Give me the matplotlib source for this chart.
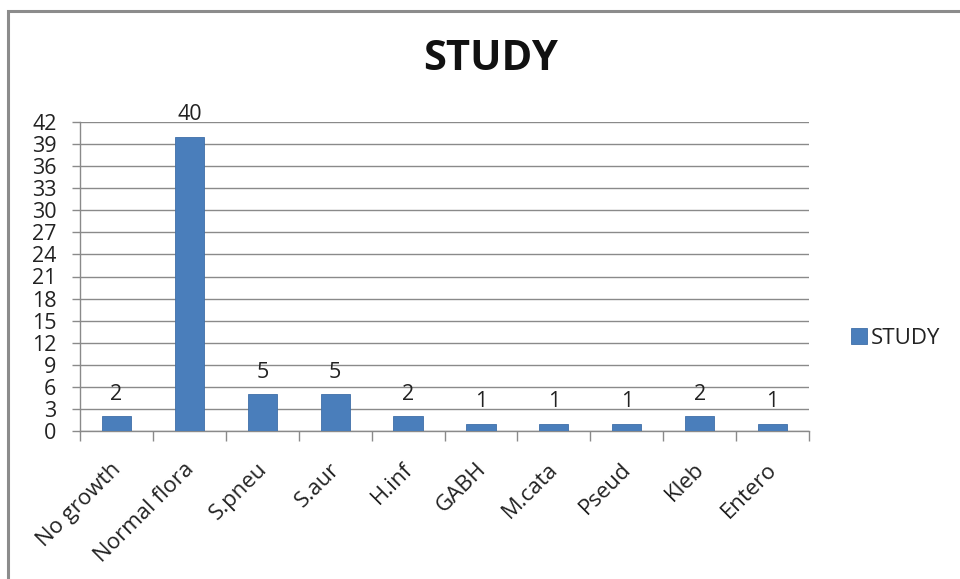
import matplotlib
matplotlib.use("Agg")
import matplotlib.pyplot as plt
from matplotlib.patches import Rectangle
from matplotlib.transforms import ScaledTranslation
import numpy as np

categories = ["No growth", "Normal flora", "S.pneu", "S.aur", "H.inf",
              "GABH", "M.cata", "Pseud", "Kleb", "Entero"]
values = [2, 40, 5, 5, 2, 1, 1, 1, 2, 1]
series_name = "STUDY"
y_ticks = list(range(0, 43, 3))

plt.rcParams["font.family"] = ["Open Sans", "DejaVu Sans"]

W, H = 960, 579
fig = plt.figure(figsize=(W / 100, H / 100), dpi=100)
fig.patch.set_facecolor("white")

# outer chart frame
fig.patches.append(Rectangle((8 / W, -0.05), 1.2, 1 - 11 / H + 0.05,
                             transform=fig.transFigure, fill=False,
                             edgecolor="#8c8c8c", linewidth=2.2, zorder=0))

ax = fig.add_axes([80 / W, 1 - 431 / H, (809 - 80) / W, (431 - 122) / H])
x = np.arange(len(categories))
bars = ax.bar(x, values, width=0.4, color="#4a7ebb", edgecolor="#3f6fa8",
              linewidth=0.6, zorder=3, label=series_name)

for xi, v in zip(x, values):
    ax.annotate(str(v), (xi, v), xytext=(0, 12), textcoords="offset points",
                ha="center", va="baseline", fontsize=15.5, color="#222222")

ax.set_xlim(-0.5, len(categories) - 0.5)
ax.set_ylim(0, 42)
ax.set_yticks(y_ticks)
ax.yaxis.grid(True, color="#8a8a8a", linewidth=1.0, zorder=0)
ax.set_axisbelow(True)

# boundary ticks between categories, labels at centres
ax.set_xticks(np.arange(-0.5, len(categories)), labels=[""] * (len(categories) + 1))
ax.set_xticks(x, minor=True)
ax.set_xticklabels(categories, minor=True, rotation=45, ha="right",
                   rotation_mode="anchor", fontsize=16, color="#222222")
ax.tick_params(axis="x", which="minor", length=0, pad=20)
ax.tick_params(axis="x", which="major", length=7, color="#8a8a8a", width=1)
ax.tick_params(axis="y", length=6, color="#8a8a8a", width=1,
               labelsize=15.5, labelcolor="#222222", pad=11)

shift = ScaledTranslation(-6 / 100, 0, fig.dpi_scale_trans)
for lab in ax.get_xticklabels(minor=True):
    lab.set_transform(lab.get_transform() + shift)

for side in ["top", "right"]:
    ax.spines[side].set_visible(False)
for side in ["left", "bottom"]:
    ax.spines[side].set_color("#8a8a8a")
    ax.spines[side].set_linewidth(1.0)

fig.text(491 / W, 1 - 59 / H, "STUDY", ha="center", va="center",
         fontsize=30, fontweight="bold", color="#111111")

leg = fig.legend(handles=[bars], labels=[series_name], loc="center left",
                 bbox_to_anchor=(851 / W, 1 - 338 / H), frameon=False,
                 fontsize=16, handlelength=0.7, handleheight=0.7,
                 handletextpad=0.2, borderaxespad=0, borderpad=0)
for t in leg.get_texts():
    t.set_color("#222222")

fig.savefig("out.png", dpi=100)
